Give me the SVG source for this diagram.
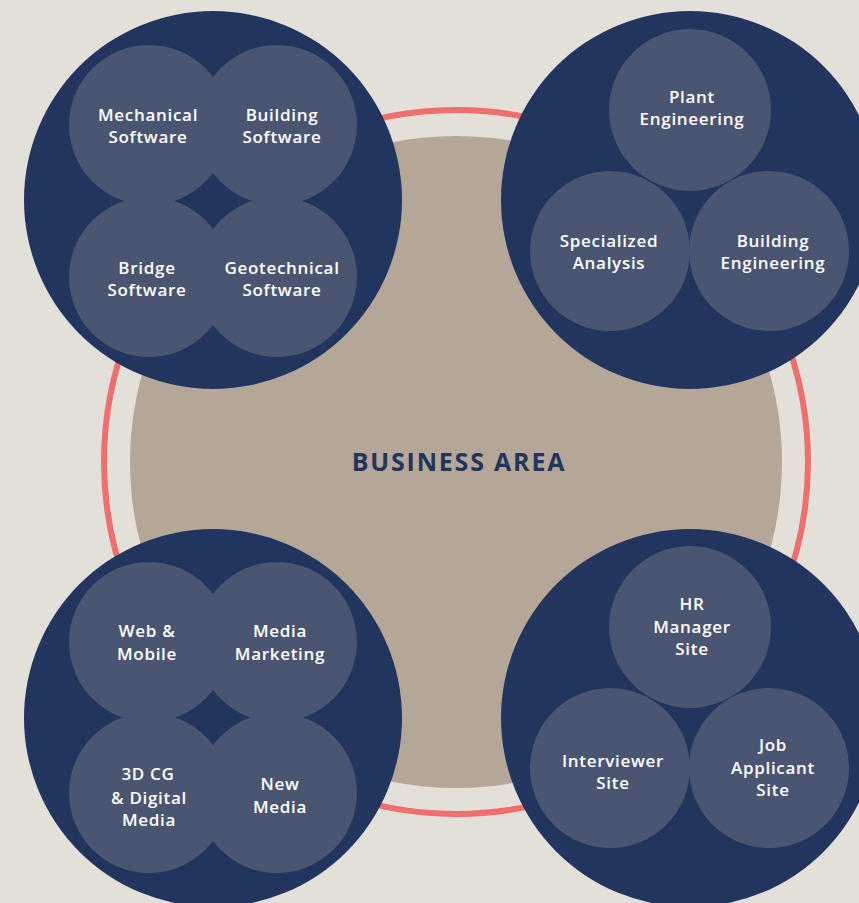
<svg xmlns="http://www.w3.org/2000/svg" width="859" height="903" viewBox="0 0 859 903">
<style>
.bg{fill:#E3DFD9}
.core{fill:#B5A797}
.ring{fill:none;stroke:#EE6F6B;stroke-width:6}
.big{fill:#21355E}
.sm{fill:#4A5571}
.lbl{font-family:"Open Sans","Liberation Sans",sans-serif;font-size:17px;font-weight:600;fill:#FFFFFF;text-anchor:middle;letter-spacing:0.7px}
.title{font-family:"Open Sans","Liberation Sans",sans-serif;font-size:25px;font-weight:700;fill:#21355E;text-anchor:middle;letter-spacing:1.8px}
</style>
<rect class="bg" x="0" y="0" width="859" height="903"/>
<g id="business-area">
<circle class="ring" cx="456" cy="462" r="352"/>
<circle class="core" cx="456" cy="462" r="326"/>
<text class="title" x="459" y="471">BUSINESS AREA</text>
</g>
<g id="group-software">
<circle class="big" cx="213" cy="200" r="189"/>
<g id="mechanical-software"><circle class="sm" cx="149" cy="125" r="80"/><text class="lbl" x="148" y="121">Mechanical</text><text class="lbl" x="148" y="143">Software</text></g>
<g id="building-software"><circle class="sm" cx="277" cy="125" r="80"/><text class="lbl" x="282" y="121">Building</text><text class="lbl" x="282" y="143">Software</text></g>
<g id="bridge-software"><circle class="sm" cx="149" cy="277" r="80"/><text class="lbl" x="147" y="274">Bridge</text><text class="lbl" x="147" y="296">Software</text></g>
<g id="geotechnical-software"><circle class="sm" cx="277" cy="277" r="80"/><text class="lbl" x="282" y="274">Geotechnical</text><text class="lbl" x="282" y="296">Software</text></g>
</g>
<g id="group-engineering">
<circle class="big" cx="690" cy="200" r="189"/>
<g id="plant-engineering"><circle class="sm" cx="690" cy="110" r="81"/><text class="lbl" x="692" y="103">Plant</text><text class="lbl" x="692" y="125">Engineering</text></g>
<g id="specialized-analysis"><circle class="sm" cx="610" cy="251" r="80"/><text class="lbl" x="609" y="247">Specialized</text><text class="lbl" x="609" y="269">Analysis</text></g>
<g id="building-engineering"><circle class="sm" cx="769" cy="251" r="80"/><text class="lbl" x="773" y="247">Building</text><text class="lbl" x="773" y="269">Engineering</text></g>
</g>
<g id="group-media">
<circle class="big" cx="213" cy="718" r="189"/>
<g id="web-mobile"><circle class="sm" cx="149" cy="642" r="80"/><text class="lbl" x="147" y="637">Web &amp;</text><text class="lbl" x="147" y="660">Mobile</text></g>
<g id="media-marketing"><circle class="sm" cx="277" cy="642" r="80"/><text class="lbl" x="280" y="637">Media</text><text class="lbl" x="280" y="660">Marketing</text></g>
<g id="3dcg-digital-media"><circle class="sm" cx="149" cy="793" r="80"/><text class="lbl" x="148" y="780">3D CG</text><text class="lbl" x="149" y="804">&amp; Digital</text><text class="lbl" x="149" y="826">Media</text></g>
<g id="new-media"><circle class="sm" cx="277" cy="793" r="80"/><text class="lbl" x="280" y="790">New</text><text class="lbl" x="280" y="813">Media</text></g>
</g>
<g id="group-hr">
<circle class="big" cx="690" cy="718" r="189"/>
<g id="hr-manager-site"><circle class="sm" cx="690" cy="627" r="81"/><text class="lbl" x="692" y="610">HR</text><text class="lbl" x="692" y="633">Manager</text><text class="lbl" x="692" y="655">Site</text></g>
<g id="interviewer-site"><circle class="sm" cx="610" cy="768" r="80"/><text class="lbl" x="613" y="767">Interviewer</text><text class="lbl" x="613" y="789">Site</text></g>
<g id="job-applicant-site"><circle class="sm" cx="769" cy="768" r="80"/><text class="lbl" x="773" y="751">Job</text><text class="lbl" x="773" y="774">Applicant</text><text class="lbl" x="773" y="796">Site</text></g>
</g>
<g id="connectors"/>
</svg>
